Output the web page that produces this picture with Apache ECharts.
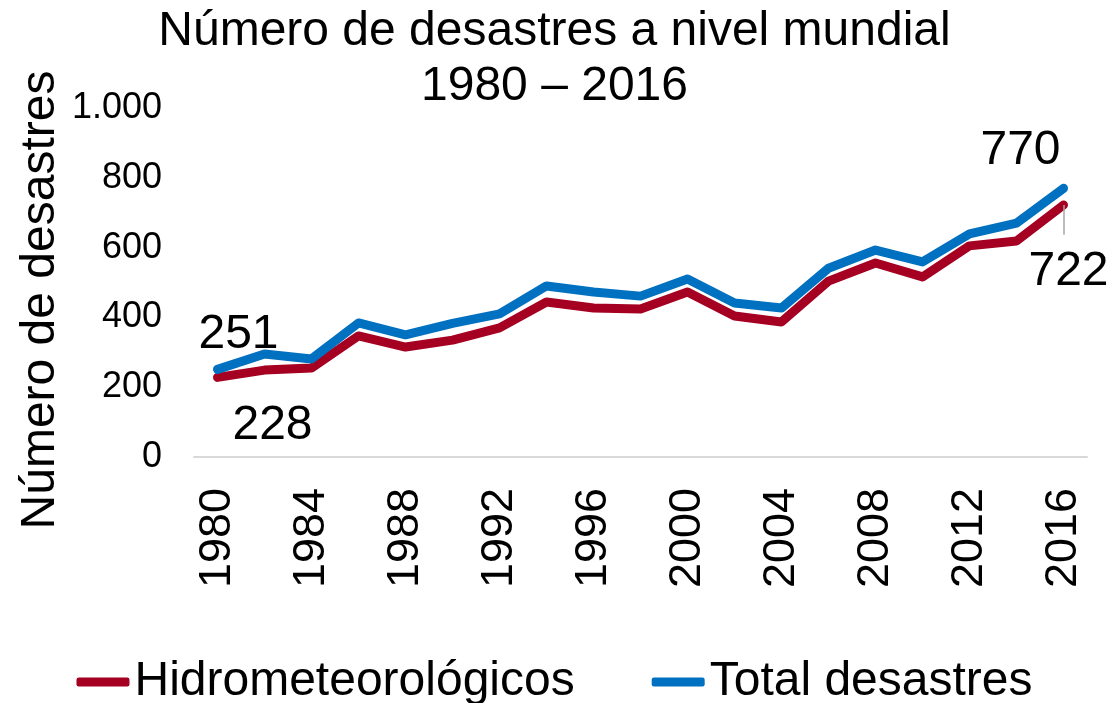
<!DOCTYPE html>
<html>
<head>
<meta charset="utf-8">
<script src="https://cdn.jsdelivr.net/npm/echarts@6/dist/echarts.min.js"></script>
<style>
  html, body { margin: 0; padding: 0; background: #fff; }
  #chart { width: 1109px; height: 703px; }
</style>
</head>
<body>
<div id="chart"></div>
<script>
var years = ['1980', '1982', '1984', '1986', '1988', '1990', '1992', '1994', '1996', '1998',
             '2000', '2002', '2004', '2006', '2008', '2010', '2012', '2014', '2016'];
var hidro = [228, 249, 255, 347, 315, 335, 370, 444, 427, 424, 473, 404, 387, 504, 556, 516, 605, 619, 722];
var total = [251, 295, 281, 384, 350, 383, 410, 490, 473, 461, 510, 441, 427, 541, 593, 559, 639, 670, 770];

var FONT = "'Liberation Sans', Arial, sans-serif";
var last = years.length - 1;

// show labels only on the first and last points
function withLabels(values, first, end) {
  return values.map(function (v, i) {
    if (i === 0) return { value: v, label: { show: true, offset: first } };
    if (i === last) return { value: v, label: { show: true, offset: end } };
    return v;
  });
}

var chart = echarts.init(document.getElementById('chart'));
var lineLabel = {
  show: false,
  position: 'inside',
  fontSize: 48,
  fontFamily: FONT,
  color: '#000'
};

chart.setOption({
  animation: false,
  title: {
    text: 'Número de desastres a nivel mundial\n1980 – 2016',
    left: 'center',
    top: 4,
    padding: 0,
    textStyle: { fontSize: 48, fontWeight: 'normal', fontFamily: FONT, color: '#000', lineHeight: 55 }
  },
  graphic: [{
    type: 'text',
    x: 41,
    y: 300,
    rotation: Math.PI / 2,
    style: {
      text: 'Número de desastres',
      font: '48px ' + FONT,
      fill: '#000',
      textAlign: 'center',
      textVerticalAlign: 'middle'
    }
  }],
  legend: {
    top: 653,
    left: 'center',
    icon: 'roundRect',
    itemWidth: 53,
    itemHeight: 9,
    itemGap: 77,
    textStyle: { fontSize: 48, fontFamily: FONT, color: '#000' },
    data: ['Hidrometeorológicos', 'Total desastres']
  },
  grid: { left: 194, right: 22, top: 108, bottom: 246 },
  xAxis: {
    type: 'category',
    data: years,
    boundaryGap: true,
    axisLine: { lineStyle: { color: '#d9d9d9', width: 2 } },
    axisTick: { show: false },
    axisLabel: {
      interval: 1,
      rotate: 90,
      margin: 31,
      fontSize: 45,
      fontFamily: FONT,
      color: '#000'
    }
  },
  yAxis: {
    type: 'value',
    min: 0,
    max: 1000,
    interval: 200,
    axisLine: { show: false },
    axisTick: { show: false },
    splitLine: { show: false },
    axisLabel: {
      margin: 32,
      fontSize: 36,
      fontFamily: FONT,
      color: '#000',
      formatter: function (v) {
        return String(v).replace(/\B(?=(\d{3})+(?!\d))/g, '.');
      }
    }
  },
  series: [{
    name: 'Hidrometeorológicos',
    type: 'line',
    data: withLabels(hidro, [55, 48], [5, 67]),
    symbol: 'circle',
    symbolSize: 0,
    showSymbol: true,
    color: '#A50021',
    lineStyle: { width: 9, color: '#A50021', cap: 'round', join: 'round' },
    label: lineLabel,
    emphasis: { disabled: true },
    // leader line from the last point down to its label
    markLine: {
      silent: true,
      symbol: 'none',
      label: { show: false },
      lineStyle: { color: '#a6a6a6', width: 1.5, type: 'solid' },
      data: [[
        { coord: [years[last], hidro[last]] },
        { coord: [years[last], hidro[last] - 85] }
      ]]
    }
  }, {
    name: 'Total desastres',
    type: 'line',
    data: withLabels(total, [21, -35], [-43, -38]),
    symbol: 'circle',
    symbolSize: 0,
    showSymbol: true,
    color: '#0070C0',
    lineStyle: { width: 9, color: '#0070C0', cap: 'round', join: 'round' },
    label: lineLabel,
    emphasis: { disabled: true }
  }]
});
</script>
</body>
</html>
